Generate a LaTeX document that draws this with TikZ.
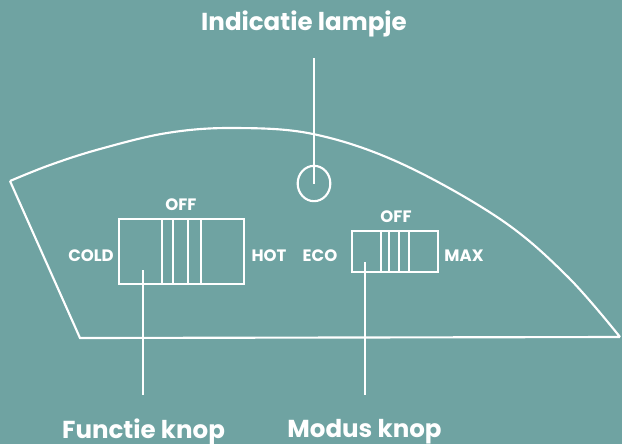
\documentclass[tikz,border=0pt]{standalone}
\usepackage{fontspec}
\usetikzlibrary{shapes.geometric}
\setmainfont{Poppins}
\definecolor{bg}{RGB}{111,163,162}
\begin{document}
\begin{tikzpicture}[x=0.75pt,y=-0.75pt,
  line/.style={draw=white,line width=1.6pt},
  lbl/.style={text=white,font=\bfseries\fontsize{12.4}{14}\selectfont,inner sep=0pt},
  title/.style={text=white,font=\bfseries\fontsize{18.4}{21}\selectfont,inner sep=0pt}]
\fill[bg] (0,0) rectangle (622,444);
\useasboundingbox (0,0) rectangle (622,444);
% outline
\draw[line,line join=miter] (620,337) -- (80,338) -- (10,181)
  plot[smooth,tension=0.6] coordinates {(10,181) (50,165) (100,149) (167,133) (233,128) (313,134) (400,163) (500,219) (567,276) (620,337)};
% lamp
\node[line,ellipse,minimum width=24.5pt,minimum height=26.5pt,inner sep=0pt] (lamp) at (314,183.5) {};
\coordinate (lamptop) at (314,58);
\draw[line] (lamptop) -- (lamp.center);
\node[title] (tlamp) at (304,24) {Indicatie lampje};
% function switch
\node[line,rectangle,minimum width=93.75pt,minimum height=48.75pt,inner sep=0pt] (fsw) at (181.5,251.5) {};
\foreach \x in {162,173,188,201} \draw[line] (\x,219) -- (\x,284);
\coordinate (fknob) at (143,270);
\coordinate (fend) at (143,395);
\draw[line] (fknob) -- (fend);
\node[lbl] (foff) at (181,205) {OFF};
\node[lbl] (fcold) at (91,256) {COLD};
\node[lbl] (fhot) at (269,256) {HOT};
\node[title] (tf) at (143.5,432) {Functie knop};
% mode switch
\node[line,rectangle,minimum width=64.5pt,minimum height=30.75pt,inner sep=0pt] (msw) at (395,251.5) {};
\foreach \x in {381,389,399,409} \draw[line] (\x,231) -- (\x,272);
\coordinate (mknob) at (365,262);
\coordinate (mend) at (365,395);
\draw[line] (mknob) -- (mend);
\node[lbl] (moff) at (396,217) {OFF};
\node[lbl] (meco) at (320,256) {ECO};
\node[lbl] (mmax) at (464,256) {MAX};
\node[title] (tm) at (364.5,432) {Modus knop};
\end{tikzpicture}
\end{document}
